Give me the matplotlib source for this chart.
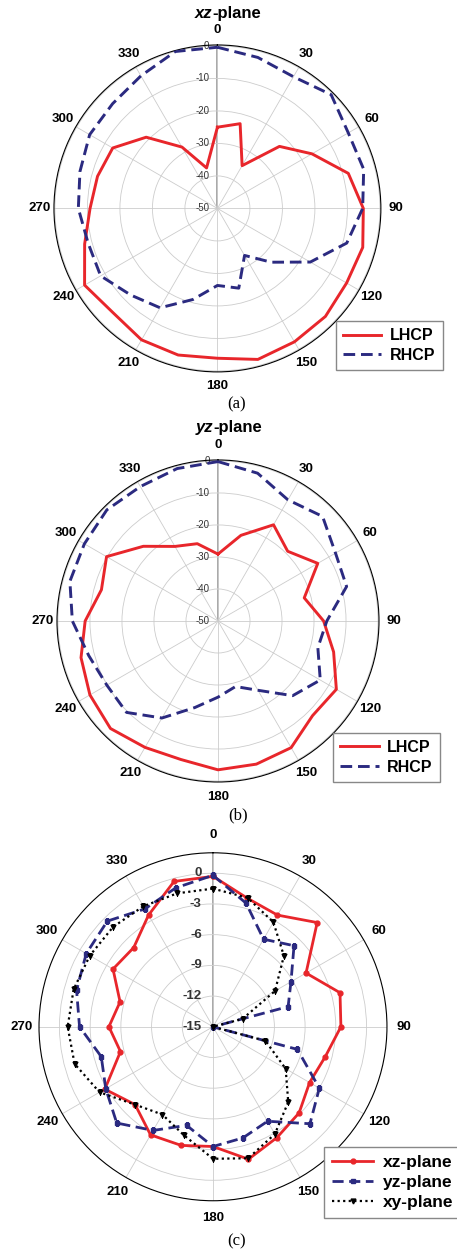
import numpy as np
import matplotlib.pyplot as plt
from matplotlib.transforms import offset_copy

plt.rcParams['font.family'] = ['Liberation Sans', 'DejaVu Sans']

# angles in degrees, one sample every 15 deg
angles = list(range(0, 360, 15))

# (a) xz-plane, dB
a_lhcp = [-25, -23, -34.8, -23, -16.4, -8.3, -5.1, -3.7, -4.1, -3, -2.6, -1.9,
          -3.9, -3.3, -3.3, -4.6, -2.8, -7.7, -10.8, -11.8, -12.8, -19, -28.2, -37.1]
a_rhcp = [-0.4, -1.9, -3.2, -0.5, -3.5, -3.4, -5.3, -8.8, -17, -26.6, -33.3, -24.6,
          -26.3, -21, -14.7, -12.3, -8.5, -8.8, -7.2, -6.2, -4.6, -4.4, -2.9, 0]

# (b) yz-plane, dB
b_lhcp = [-29.1, -22.3, -15.3, -19.2, -14, -22.1, -17, -12.6, -7.3, -8.2, -4.3, -3.7,
          -3.5, -5.2, -4.4, -2.5, -3.8, -5.7, -8.5, -12.3, -9.8, -17, -23.1, -25]
b_rhcp = [-0.2, -2.2, -6.3, -3.8, -7.6, -8.4, -16, -17.7, -13.1, -17, -25, -28.8,
          -26.2, -22, -15, -9.6, -9.9, -8.2, -4.5, -2.1, -1.8, -0.9, -1.5, -0.7]

# (c) normalised patterns, dB
c_xz = [-0.3, -2.0, -2.4, -0.6, -4.5, -2.15, -2.5, -3.65, -4.1, -3.1, -2.5, -1.6,
        -3.3, -3.0, -2.8, -4.24, -2.8, -5.64, -4.83, -5.6, -3.72, -4.05, -2.4, -0.3]
c_yz = [-0.2, -2.5, -5.12, -3.8, -6.2, -7.4, -15, -6.46, -3.0, -1.6, -4.34, -3.75,
        -3.3, -5.03, -3.3, -1.7, -2.9, -3.7, -1.96, -1.2, -0.7, -0.4, -1.7, -0.95]
c_xy = [-1.5, -1.95, -3.2, -5.2, -8, -12, -15, -9.7, -6.8, -4.6, -2.9, -1.7,
        -2.1, -4.03, -5.1, -4.24, -2.2, -1.0, -0.8, -0.9, -1.1, -1.2, -1.4, -1.5]

theta_labels = [str(a) for a in range(0, 360, 30)]

RED = '#e8262b'
NAVY = '#2b2a80'


def closed(vals):
    th = np.deg2rad(angles + [angles[0]])
    return th, list(vals) + [vals[0]]


def setup(ax, rmin, rmax, rticks, rfs, rbold, rpad, tpad):
    ax.set_theta_zero_location('N')
    ax.set_theta_direction(-1)
    ax.set_ylim(rmin, rmax)
    ax.set_thetagrids(range(0, 360, 30), labels=theta_labels,
                      fontsize=9.5, fontweight='bold')
    ax.set_rgrids(rticks, labels=[''] * len(rticks))
    ax.grid(color='#cccccc', lw=0.6)
    ax.spines['polar'].set_color('black')
    ax.spines['polar'].set_linewidth(0.8)
    ax.tick_params(axis='x', pad=tpad, length=3, width=0.8, direction='out',
                   color='black')
    # vertical axis line with the radial labels on its left
    ax.plot([0, 0], [rmin, rmax], color='#999999', lw=1.2, zorder=1)
    tr = offset_copy(ax.transData, fig=ax.figure, x=-rpad, y=0, units='points')
    for r in rticks:
        ax.text(0, r, str(r), transform=tr, ha='right', va='center',
                fontsize=rfs, fontweight='bold' if rbold else 'normal',
                color='#333333', zorder=2)


def add_legend(ax, anchor, size, hl):
    fig.legend(*ax.get_legend_handles_labels(), loc='upper left',
               bbox_to_anchor=anchor, borderaxespad=0,
               prop={'size': size, 'weight': 'bold'},
               fancybox=False, edgecolor='#888888', framealpha=1,
               handlelength=hl, handletextpad=0.55, borderpad=0.45,
               labelspacing=0.3)


fig = plt.figure(figsize=(4.57, 12.53), dpi=100)

# (a)
ax1 = fig.add_axes([0.118, 0.7032, 0.7155, 0.2609], projection='polar')
setup(ax1, -50, 0.3, [-50, -40, -30, -20, -10, 0], 7, False, 6, 0.5)
ax1.plot(*closed(a_lhcp), color=RED, lw=2.1, label='LHCP', zorder=3)
ax1.plot(*closed(a_rhcp), color=NAVY, lw=2.1, ls=(0, (4, 2)), label='RHCP', zorder=3)
add_legend(ax1, (0.735, 0.7438), 11.5, 2.4)
fig.text(0.464, 0.9895, 'xz', ha='right', va='center', fontsize=12,
         fontweight='bold', style='italic')
fig.text(0.464, 0.9895, '-plane', ha='left', va='center', fontsize=12,
         fontweight='bold')
fig.text(0.518, 0.677, '(a)', ha='center', va='center', fontsize=12,
         family='Liberation Serif')

# (b)
ax2 = fig.add_axes([0.1247, 0.3759, 0.7046, 0.257], projection='polar')
setup(ax2, -50, 0.3, [-50, -40, -30, -20, -10, 0], 7, False, 6, 0.5)
ax2.plot(*closed(b_lhcp), color=RED, lw=2.1, label='LHCP', zorder=3)
ax2.plot(*closed(b_rhcp), color=NAVY, lw=2.1, ls=(0, (4, 2)), label='RHCP', zorder=3)
add_legend(ax2, (0.7287, 0.4152), 11.5, 2.4)
fig.text(0.466, 0.6585, 'yz', ha='right', va='center', fontsize=12,
         fontweight='bold', style='italic')
fig.text(0.466, 0.6585, '-plane', ha='left', va='center', fontsize=12,
         fontweight='bold')
fig.text(0.52, 0.3495, '(b)', ha='center', va='center', fontsize=12,
         family='Liberation Serif')

# (c)
ax3 = fig.add_axes([0.0853, 0.0417, 0.7615, 0.2777], projection='polar')
setup(ax3, -15, 2, [-15, -12, -9, -6, -3, 0], 9.5, True, 8, 2.5)
ax3.plot(*closed(c_xz), color=RED, lw=2, marker='o', ms=3.5, label='xz-plane', zorder=3)
ax3.plot(*closed(c_yz), color=NAVY, lw=2, ls=(0, (4, 2)), marker='s', ms=3.5,
         label='yz-plane', zorder=3)
ax3.plot(*closed(c_xy), color='black', lw=1.6, ls=(0, (1, 1.5)), marker='v', ms=3.5,
         label='xy-plane', zorder=3)
add_legend(ax3, (0.709, 0.0848), 12.5, 2.4)
fig.text(0.518, 0.009, '(c)', ha='center', va='center', fontsize=12,
         family='Liberation Serif')

fig.savefig('out.png', dpi=100)
